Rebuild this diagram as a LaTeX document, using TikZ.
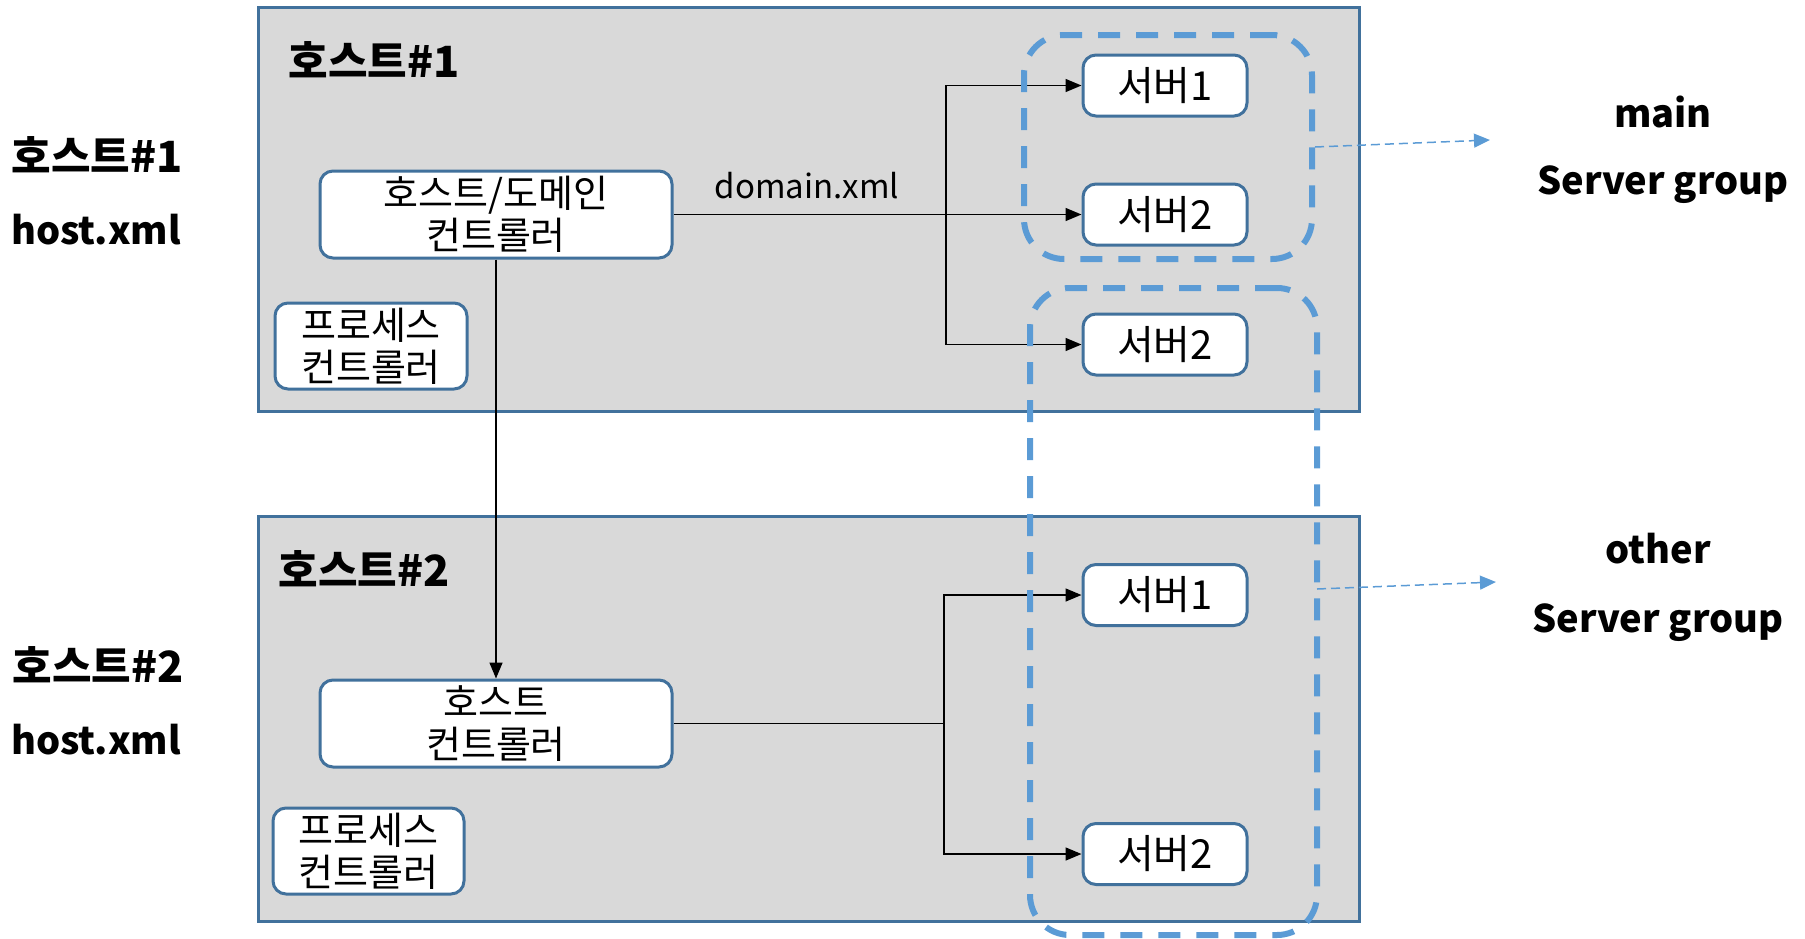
\documentclass[tikz,border=0pt]{standalone}
\usepackage{fontspec}
\setmainfont{Noto Sans CJK KR}
\usetikzlibrary{arrows.meta}
\definecolor{hostfill}{HTML}{D9D9D9}
\definecolor{boxline}{HTML}{41719C}
\definecolor{grpline}{HTML}{5B9BD5}
\tikzset{
  hostbox/.style={draw=boxline, line width=3pt, fill=hostfill},
  comp/.style={draw=boxline, line width=3pt, fill=white, rounded corners=13pt, align=center, font=\fontsize{38}{42}\selectfont, inner sep=0pt},
  srv/.style={comp, minimum width=164pt, minimum height=61pt, font=\fontsize{40}{42}\selectfont},
  conn/.style={draw=black, line width=1.5pt},
  arr/.style={conn, -{Triangle[length=16pt,width=13pt]}},
  grp/.style={draw=grpline, line width=6pt, rounded corners=40pt, dash pattern=on 22pt off 16pt, inner sep=0pt},
  grparr/.style={draw=grpline, line width=1.5pt, dash pattern=on 9pt off 5pt, -{Triangle[length=16pt,width=14pt]}},
  klbl/.style={font=\fontsize{43}{46}\selectfont\bfseries},
  elbl/.style={font=\fontsize{38}{42}\selectfont\bfseries},
  xmlnote/.style={font=\fontsize{33}{36}\selectfont}
}
\begin{document}
\begin{tikzpicture}[x=1pt,y=-1pt]
\useasboundingbox (0,0) rectangle (1805,938);
% host boxes
\node[hostbox, minimum width=1101pt, minimum height=404pt, inner sep=0pt] (h1) at (808.5,209) {};
\node[hostbox, minimum width=1101pt, minimum height=405pt, inner sep=0pt] (h2) at (808.5,718.5) {};
\node[klbl] (t1) at (374,60) {호스트\#1};
\node[klbl] (t2) at (364,569) {호스트\#2};
% left labels
\node[klbl] (l1a) at (97,155) {호스트\#1};
\node[elbl] (l1b) at (96,230) {host.xml};
\node[klbl] (l2a) at (98,665) {호스트\#2};
\node[elbl] (l2b) at (96,740) {host.xml};
% right labels
\node[elbl] (r1a) at (1663,112) {main};
\node[elbl] (r1b) at (1663,185) {Server group};
\node[elbl] (r2a) at (1658,549) {other};
\node[elbl] (r2b) at (1658,623) {Server group};
% components host1
\node[comp, minimum width=352pt, minimum height=87pt] (dc) at (496,214.5) {호스트/도메인\\컨트롤러};
\node[comp, minimum width=192pt, minimum height=86pt] (pc1) at (371,346) {프로세스\\컨트롤러};
\node[srv] (s11) at (1165,85.5) {서버1};
\node[srv] (s12) at (1165,214.5) {서버2};
\node[srv] (s13) at (1165,344.5) {서버2};
% components host2
\node[comp, minimum width=352pt, minimum height=87pt] (hc) at (496,723.5) {호스트\\컨트롤러};
\node[comp, minimum width=191pt, minimum height=86pt] (pc2) at (368.5,851) {프로세스\\컨트롤러};
\node[srv] (s21) at (1165,595) {서버1};
\node[srv] (s22) at (1165,854) {서버2};
% connectors host1
\coordinate (b1) at (946,214.5);
\draw[arr] (dc.east) -- (s12.west);
\node[xmlnote] (dx) at (807,186) {domain.xml};
\draw[arr] (b1) |- (s11.west);
\draw[arr] (b1) |- (s13.west);
\draw[arr] (dc.south) -- (hc.north);
% connectors host2
\coordinate (b2) at (944,723.5);
\draw[conn] (hc.east) -- (b2);
\draw[arr] (b2) |- (s21.west);
\draw[arr] (b2) |- (s22.west);
% server groups
\node[grp, minimum width=288pt, minimum height=224pt] (g1) at (1168,147) {};
\node[grp, minimum width=287pt, minimum height=647pt] (g2) at (1173.5,611.5) {};
\coordinate (a1) at (1490,140);
\coordinate (a2) at (1496,582);
\draw[grparr] (g1.east) -- (a1);
\draw[grparr] (1317,589) coordinate (g2e) -- (a2);
\end{tikzpicture}
\end{document}
